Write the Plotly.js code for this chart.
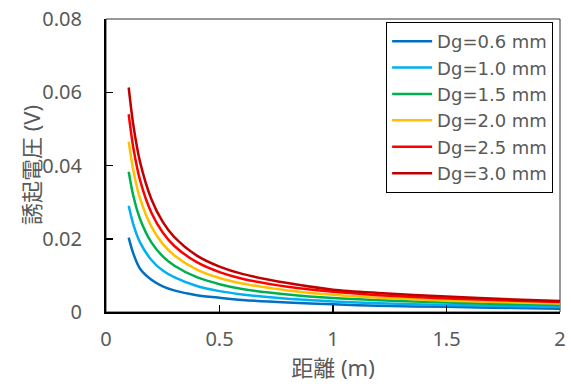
<!DOCTYPE html>
<html>
<head>
<meta charset="utf-8">
<script src="https://cdn.plot.ly/plotly-3.0.1.min.js"></script>
<style>html,body{margin:0;padding:0;background:#fff;}#chart{width:571px;height:387px;}</style>
</head>
<body>
<div id="chart"></div>
<script>
var distance = [0.1, 0.12, 0.15, 0.2, 0.25, 0.3, 0.4, 0.5, 0.6, 0.8, 1.0, 1.2, 1.5, 1.8, 2.0];
var seriesNames = ["Dg=0.6 mm", "Dg=1.0 mm", "Dg=1.5 mm", "Dg=2.0 mm", "Dg=2.5 mm", "Dg=3.0 mm"];
var dg06 = [0.0203, 0.0160, 0.0118, 0.0088, 0.0070, 0.0059, 0.0046, 0.0039, 0.0033, 0.0026, 0.0021, 0.0017, 0.0014, 0.0011, 0.0009];
var dg10 = [0.0290, 0.0240, 0.0190, 0.0142, 0.0113, 0.0095, 0.0071, 0.0057, 0.0048, 0.0036, 0.0029, 0.0024, 0.0019, 0.0016, 0.0014];
var dg15 = [0.0383, 0.0318, 0.0254, 0.0190, 0.0152, 0.0127, 0.0095, 0.0076, 0.0063, 0.0048, 0.0038, 0.0032, 0.0026, 0.0021, 0.0019];
var dg20 = [0.0465, 0.0388, 0.0310, 0.0233, 0.0186, 0.0155, 0.0116, 0.0093, 0.0078, 0.0059, 0.0047, 0.0039, 0.0031, 0.0026, 0.0023];
var dg25 = [0.0540, 0.0450, 0.0360, 0.0271, 0.0217, 0.0181, 0.0136, 0.0109, 0.0091, 0.0069, 0.0055, 0.0046, 0.0037, 0.0031, 0.0027];
var dg30 = [0.0613, 0.0512, 0.0410, 0.0308, 0.0246, 0.0205, 0.0154, 0.0124, 0.0104, 0.0079, 0.0061, 0.0052, 0.0042, 0.0034, 0.0030];
var xTickVals = [0, 0.5, 1, 1.5, 2];
var xTickText = ["0", "0.5", "1", "1.5", "2"];
var yTickVals = [0, 0.02, 0.04, 0.06, 0.08];
var yTickText = ["0", "0.02", "0.04", "0.06", "0.08"];
var yTitle = "誘起電圧 (V)";
var xTitle = "距離 (m)";

var colors = ["#0070C0", "#00B0F0", "#00B050", "#FFC000", "#FF0000", "#C00000"];
var allY = [dg06, dg10, dg15, dg20, dg25, dg30];
var traces = allY.map(function (ys, i) {
  return {
    x: distance, y: ys, name: seriesNames[i], type: "scatter", mode: "lines",
    line: {color: colors[i], width: 2.5, shape: "spline", smoothing: 0.8}
  };
});
var FONT = "Noto Sans, Noto Sans CJK JP, sans-serif";
var layout = {
  width: 571, height: 387,
  margin: {l: 106, r: 11, t: 19, b: 75},
  paper_bgcolor: "#fff", plot_bgcolor: "#fff",
  font: {family: FONT, color: "#595959", size: 20},
  showlegend: true,
  legend: {x: 0.617, y: 0.99, xanchor: "left", yanchor: "top", bgcolor: "#fff", bordercolor: "#000", borderwidth: 1,
           itemwidth: 40, font: {family: "DejaVu Sans, sans-serif", size: 18, color: "#595959"}},
  xaxis: {range: [0, 2], tickvals: xTickVals, ticktext: xTickText, ticks: "inside", ticklen: 7, tickwidth: 1.5, tickcolor: "#000",
          showline: true, linecolor: "#000", linewidth: 2, showgrid: false, zeroline: false, ticklabelstandoff: 8,
          title: {text: xTitle, font: {family: FONT, size: 22, color: "#595959"}, standoff: 8},
          tickfont: {family: FONT, size: 20, color: "#595959"}},
  yaxis: {range: [0, 0.08], tickvals: yTickVals, ticktext: yTickText, ticks: "inside", ticklen: 7, tickwidth: 1.5, tickcolor: "#000",
          showline: true, linecolor: "#000", linewidth: 2, showgrid: false, zeroline: false, ticklabelstandoff: 18,
          tickfont: {family: FONT, size: 20, color: "#595959"}},
  annotations: [{text: yTitle, textangle: -90, xref: "paper", yref: "paper", x: -0.165, y: 0.502, xanchor: "center", yanchor: "middle",
                 showarrow: false, font: {family: FONT, size: 22, color: "#595959"}}],
  shapes: [{type: "rect", xref: "paper", yref: "paper", x0: 0, x1: 1, y0: 0, y1: 1, line: {color: "#333", width: 1}, layer: "below"}]
};
Plotly.newPlot("chart", traces, layout, {displayModeBar: false, staticPlot: true});
</script>
</body>
</html>
